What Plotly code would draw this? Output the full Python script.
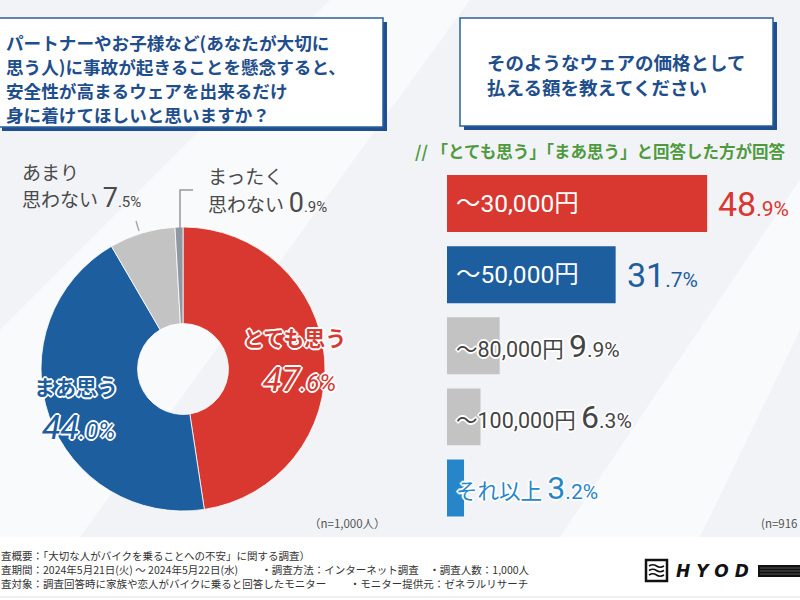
import plotly.graph_objects as go

# ---------------- data ----------------
pie_labels = ["とても思う", "まあ思う", "あまり思わない", "まったく思わない"]
pie_values = [47.6, 44.0, 7.5, 0.9]
pie_colors = ["#d8382f", "#1d5e9f", "#c3c3c3", "#8d98a2"]

bar_labels = ["〜30,000円", "〜50,000円", "〜80,000円", "〜100,000円", "それ以上"]
bar_values = [48.9, 31.7, 9.9, 6.3, 3.2]
bar_colors = ["#d8382f", "#1d5e9f", "#c3c3c3", "#c3c3c3", "#2786c9"]
bar_text_colors = ["#ffffff", "#ffffff", "#444444", "#444444", "#2786c9"]
bar_value_colors = ["#d8382f", "#1d5e9f", "#444444", "#444444", "#2786c9"]

title_left_lines = ["パートナーやお子様など(あなたが大切に", "思う人)に事故が起きることを懸念すると、",
                    "安全性が高まるウェアを出来るだけ", "身に着けてほしいと思いますか？"]
title_right_lines = ["そのようなウェアの価格として", "払える額を教えてください"]
subtitle_right = "// 「とても思う」「まあ思う」と回答した方が回答"
n_left = "（n=1,000人）"
n_right = "(n=916"
footer_lines = [
    "査概要：「大切な人がバイクを乗ることへの不安」に関する調査）",
    "査期間：2024年5月21日(火) 〜 2024年5月22日(水)　　 ・調査方法：インターネット調査　・調査人数：1,000人",
    "査対象：調査回答時に家族や恋人がバイクに乗ると回答したモニター　　 ・モニター提供元：ゼネラルリサーチ",
]

W, H = 800, 600
def X(px): return px / W
def Y(py): return 1 - py / H

JP = "Noto Sans CJK JP"
NUM = "Roboto, Noto Sans CJK JP"
OUT_W = "1px 1px 0 #fff, -1px -1px 0 #fff, 1px -1px 0 #fff, -1px 1px 0 #fff, 0 2px 0 #fff, 0 -2px 0 #fff, 2px 0 0 #fff, -2px 0 0 #fff"

def pct(v, big, small):
    s = f"{v:.1f}"
    i, d = s.split(".")
    return (f"<span style='font-size:{big}px'>{i}</span>"
            f"<span style='font-size:{small}px'>.{d}%</span>")

fig = go.Figure()

fig.add_trace(go.Pie(
    values=pie_values, labels=pie_labels, sort=False, direction="clockwise",
    rotation=0, hole=0.32, textinfo="none", hoverinfo="label+percent",
    marker=dict(colors=pie_colors, line=dict(color="#ffffff", width=0.8)),
    domain=dict(x=[X(41), X(325)], y=[Y(511), Y(227)]), showlegend=False,
))

fig.add_trace(go.Bar(
    x=bar_values, y=bar_labels, orientation="h",
    marker=dict(color=bar_colors, line=dict(width=0)),
    xaxis="x", yaxis="y", showlegend=False, hoverinfo="x+y",
))

shapes = []
# background decorations
shapes.append(dict(type="path", xref="paper", yref="paper",
                   path=f"M {X(0)},{Y(330)} L {X(330)},{Y(0)} L {X(470)},{Y(0)} L {X(80)},{Y(537)} L {X(0)},{Y(537)} Z",
                   fillcolor="rgba(255,255,255,0.55)", line=dict(width=0), layer="below"))
shapes.append(dict(type="path", xref="paper", yref="paper",
                   path=f"M {X(560)},{Y(537)} L {X(800)},{Y(180)} L {X(800)},{Y(330)} L {X(700)},{Y(537)} Z",
                   fillcolor="rgba(255,255,255,0.6)", line=dict(width=0), layer="below"))
# footer band
shapes.append(dict(type="rect", xref="paper", yref="paper", x0=0, x1=1, y0=0, y1=Y(537),
                   fillcolor="#ffffff", line=dict(width=0), layer="below"))
shapes.append(dict(type="line", xref="paper", yref="paper", x0=0, x1=1, y0=Y(597), y1=Y(597),
                   line=dict(color="#dddddd", width=1), layer="below"))
# title boxes (shadow + box)
for (x0, y0, x1, y1) in [(-2, 18, 383, 127), (460, 18, 773, 126)]:
    shapes.append(dict(type="rect", xref="paper", yref="paper",
                       x0=X(x0 + 4), x1=X(x1 + 4), y0=Y(y1 + 4), y1=Y(y0 + 4),
                       fillcolor="#1f4f8f", line=dict(width=0), layer="below"))
    shapes.append(dict(type="rect", xref="paper", yref="paper",
                       x0=X(x0), x1=X(x1), y0=Y(y1), y1=Y(y0),
                       fillcolor="#ffffff", line=dict(color="#2d5f9c", width=1.5), layer="below"))
# leader lines
shapes.append(dict(type="line", xref="paper", yref="paper", x0=X(136), y0=Y(221), x1=X(139), y1=Y(231),
                   line=dict(color="#aaaaaa", width=1.5)))
shapes.append(dict(type="path", xref="paper", yref="paper",
                   path=f"M {X(193)},{Y(190)} L {X(180)},{Y(190)} L {X(180)},{Y(229)}",
                   line=dict(color="#999999", width=1.5)))
# HYOD logo icon & stripe bar
shapes.append(dict(type="rect", xref="paper", yref="paper", x0=X(646), x1=X(667), y0=Y(581), y1=Y(560),
                   fillcolor="rgba(0,0,0,0)", line=dict(color="#111111", width=2.5)))
for yy in [566, 570.5, 575]:
    shapes.append(dict(type="path", xref="paper", yref="paper",
                       path=f"M {X(649)},{Y(yy)} Q {X(653)},{Y(yy-2.5)} {X(656.5)},{Y(yy)} T {X(664)},{Y(yy)}",
                       line=dict(color="#111111", width=1.6)))
shapes.append(dict(type="rect", xref="paper", yref="paper", x0=X(758), x1=X(800), y0=Y(577), y1=Y(565),
                   fillcolor="#111111", line=dict(width=0)))
for yy in [568, 571, 574]:
    shapes.append(dict(type="line", xref="paper", yref="paper", x0=X(760), x1=X(800), y0=Y(yy), y1=Y(yy),
                       line=dict(color="#888888", width=0.6)))

ann = []
def A(text, x, y, size, color, xanchor="left", family=JP, weight="normal", style="normal",
      shadow=None, xref="paper", yref="paper", xshift=0, align="left"):
    f = dict(family=family, size=size, color=color, weight=weight, style=style)
    if shadow:
        f["shadow"] = shadow
    ann.append(dict(text=text, x=x, y=y, xref=xref, yref=yref, xanchor=xanchor, yanchor="middle",
                    showarrow=False, font=f, align=align, xshift=xshift, borderpad=0))

# titles (one text per line)
for line, yy in zip(title_left_lines, [42.5, 66.5, 90.5, 114.5]):
    A(line, X(5), Y(yy), 17.6, "#1f4e8c", weight="bold")
for line, yy in zip(title_right_lines, [62, 86.5]):
    A(line, X(486), Y(yy), 18.5, "#1f4e8c", weight="bold")
A(subtitle_right, X(414), Y(151), 16.5, "#4f9a3d", weight="bold")

# pie labels
A("あまり", X(21), Y(172), 19, "#4a4a4a")
A("思わない " + pct(pie_values[2], 27, 15), X(21), Y(198), 19, "#4a4a4a", family=NUM)
A("まったく", X(207), Y(175), 19, "#4a4a4a")
A("思わない " + pct(pie_values[3], 27, 15), X(207), Y(203), 19, "#4a4a4a", family=NUM)
A(pie_labels[0], X(242), Y(337), 21, "#d8382f", weight="bold", shadow=OUT_W)
A(pct(pie_values[0], 34, 24), X(262), Y(379), 30, "#d8382f", family=NUM, style="italic", shadow=OUT_W)
A(pie_labels[1], X(33), Y(386), 21, "#1d5e9f", weight="bold", shadow=OUT_W)
A(pct(pie_values[1], 34, 24), X(41), Y(427), 30, "#1d5e9f", family=NUM, style="italic", shadow=OUT_W)
A(n_left, X(308), Y(523), 11.5, "#555555")

# bar labels
for i, (lab, v) in enumerate(zip(bar_labels, bar_values)):
    if i < 2:
        A(lab, 0, lab, 24.5, bar_text_colors[i], family=NUM, xref="x", yref="y", xshift=8)
        A(pct(v, 34, 21), v, lab, 30, bar_value_colors[i], family=NUM, xref="x", yref="y", xshift=10)
    else:
        txt = (f"<span style='color:{bar_text_colors[i]}'>{lab}</span> "
               f"<span style='color:{bar_value_colors[i]}'>{pct(v, 32, 21)}</span>")
        A(txt, 0, lab, 21.5, bar_text_colors[i], family=NUM, xref="x", yref="y", xshift=8, shadow=OUT_W)
A(n_right, X(760), Y(523), 11.5, "#555555")

# footer
for line, yy in zip(footer_lines, [555, 569, 583]):
    A(line, X(0), Y(yy), 10.5, "#333333")
A("H Y O D", X(675), Y(571), 17, "#111111", family="DejaVu Sans", weight="bold", style="italic")

px_per = 5.32
x_max = 60
fig.update_layout(
    width=W, height=H, margin=dict(l=0, r=0, t=0, b=0),
    paper_bgcolor="#f1f3f6", plot_bgcolor="rgba(0,0,0,0)",
    bargap=0.2,
    xaxis=dict(domain=[X(447), X(447 + x_max * px_per)], range=[0, x_max], visible=False, fixedrange=True),
    yaxis=dict(domain=[Y(523.6), Y(168)], autorange="reversed", visible=False, type="category",
               categoryorder="array", categoryarray=bar_labels, fixedrange=True),
    shapes=shapes, annotations=ann,
)

fig.write_html("out.html", config={"displayModeBar": False},
               post_script="document.body.style.margin='0';document.body.style.overflow='hidden';")
